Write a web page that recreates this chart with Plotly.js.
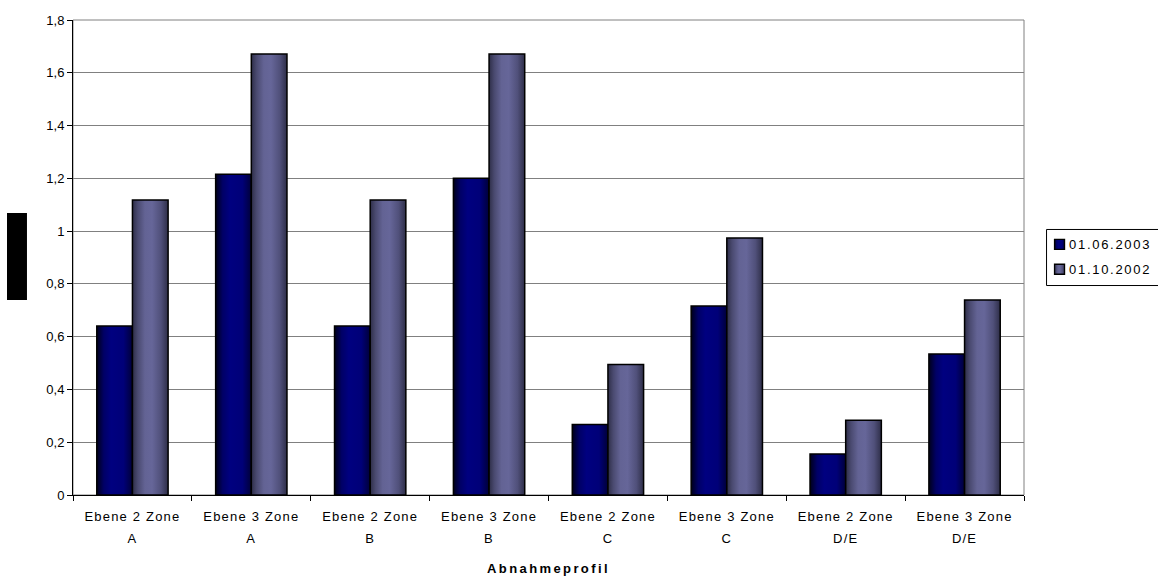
<!DOCTYPE html>
<html>
<head>
<meta charset="utf-8">
<script src="https://cdn.plot.ly/plotly-3.0.1.min.js"></script>
<style>
  html, body { margin: 0; padding: 0; background: #fff; }
  #chart { width: 1158px; height: 576px; }
  .xtitle { letter-spacing: 2.4px; }
  .xtick text { letter-spacing: 1.2px; }
  .legendtext { letter-spacing: 1.7px; }
</style>
</head>
<body>
<div id="chart"></div>
<script>
// Load profiles (Abnahmeprofile) and their values at two reference dates
const categories = [
  "Ebene 2 Zone<br>A", "Ebene 3 Zone<br>A",
  "Ebene 2 Zone<br>B", "Ebene 3 Zone<br>B",
  "Ebene 2 Zone<br>C", "Ebene 3 Zone<br>C",
  "Ebene 2 Zone<br>D/E", "Ebene 3 Zone<br>D/E"
];
const values2003 = [0.64, 1.215, 0.64, 1.20, 0.267, 0.716, 0.155, 0.534];
const values2002 = [1.118, 1.671, 1.118, 1.671, 0.495, 0.974, 0.283, 0.739];
const seriesNames = ["01.06.2003", "01.10.2002"];
const yTicks = [0, 0.2, 0.4, 0.6, 0.8, 1, 1.2, 1.4, 1.6, 1.8];

const FONT = "Liberation Sans, Arial, sans-serif";

const traces = [
  { type: "bar", name: seriesNames[0], x: categories, y: values2003, legendgroup: "a",
    marker: { color: "#000080", line: { color: "#000000", width: 1.5 } } },
  { type: "bar", name: seriesNames[1], x: categories, y: values2002, legendgroup: "b",
    marker: { color: "#666699", line: { color: "#000000", width: 1.5 } } }
];

const layout = {
  width: 1158, height: 576,
  margin: { l: 73, r: 134, t: 20, b: 81, autoexpand: false },
  paper_bgcolor: "#ffffff", plot_bgcolor: "#ffffff",
  font: { family: FONT, size: 13, color: "#000000" },
  separators: ",.",
  barmode: "group",
  bargap: 0.4, bargroupgap: 0,
  showlegend: true,
  legend: {
    x: 1.0053, xanchor: "left", y: 0.5592, yanchor: "top",
    borderwidth: 0, bgcolor: "rgba(0,0,0,0)",
    font: { family: FONT, size: 13, color: "#000000" },
    traceorder: "grouped", tracegroupgap: 5, itemwidth: 30
  },
  xaxis: {
    type: "category",
    showline: true, linecolor: "#000000", linewidth: 1,
    ticks: "outside", ticklen: 5, tickcolor: "#000000", tickson: "boundaries",
    ticklabelstandoff: 9,
    showgrid: false,
    tickfont: { family: FONT, size: 13, color: "#000000" },
    title: { text: "Abnahmeprofil", font: { family: FONT, size: 13, color: "#000000", weight: "bold" }, standoff: 25 }
  },
  yaxis: {
    range: [0, 1.8], tickvals: yTicks,
    showline: true, linecolor: "#000000", linewidth: 1,
    ticks: "outside", ticklen: 5, tickcolor: "#000000",
    showgrid: true, gridcolor: "#808080", gridwidth: 1,
    zeroline: false,
    tickfont: { family: FONT, size: 13, color: "#000000" }
  },
  shapes: [
    // plot-area frame
    { type: "rect", xref: "paper", yref: "paper", x0: 0, x1: 1, y0: 0, y1: 1,
      line: { color: "#808080", width: 1 }, fillcolor: "rgba(0,0,0,0)", layer: "below" },
    // legend frame (open to the right edge)
    { type: "rect", xref: "paper", yref: "paper", x0: 1.0237, x1: 1.15, y0: 0.441, y1: 0.559,
      line: { color: "#000000", width: 1 }, fillcolor: "rgba(0,0,0,0)" },
    // solid block on the y-axis title position
    { type: "rect", xref: "paper", yref: "paper", x0: -0.0694, x1: -0.0484, y0: 0.4105, y1: 0.5937,
      line: { width: 0 }, fillcolor: "#000000" }
  ]
};

Plotly.newPlot("chart", traces, layout, { staticPlot: true }).then(function (gd) {
  const svgNS = "http://www.w3.org/2000/svg";
  const defs = gd.querySelector("svg.main-svg defs");
  const grads = [
    { id: "gradBlue", stops: [[0, "#00001a"], [0.2, "#000066"], [0.4, "#000080"], [0.75, "#000078"], [1, "#00003a"]] },
    { id: "gradPurple", stops: [[0, "#2e2e48"], [0.15, "#4a4a70"], [0.35, "#636394"], [0.55, "#666699"], [0.8, "#50507a"], [1, "#2e2e48"]] }
  ];
  grads.forEach(function (g) {
    const lg = document.createElementNS(svgNS, "linearGradient");
    lg.setAttribute("id", g.id);
    lg.setAttribute("x1", "0"); lg.setAttribute("y1", "0");
    lg.setAttribute("x2", "1"); lg.setAttribute("y2", "0");
    g.stops.forEach(function (s) {
      const st = document.createElementNS(svgNS, "stop");
      st.setAttribute("offset", s[0]);
      st.setAttribute("stop-color", s[1]);
      lg.appendChild(st);
    });
    defs.appendChild(lg);
  });
  gd.querySelectorAll(".barlayer .trace").forEach(function (tr, i) {
    tr.querySelectorAll("path").forEach(function (p) { p.style.fill = "url(#" + grads[i].id + ")"; });
  });
  // small square legend keys placed close to their labels
  gd.querySelectorAll(".legend .traces").forEach(function (tr, i) {
    tr.querySelectorAll(".legendpoints path").forEach(function (p) {
      p.setAttribute("d", "M5,5H-5V-5H5Z");
      p.setAttribute("transform", "translate(30.5,0)");
      p.style.fill = "url(#" + grads[i].id + ")";
      p.style.stroke = "#000000";
      p.style.strokeWidth = "1.3px";
    });
  });
  // wider spacing between the two lines of each category label
  gd.querySelectorAll(".xtick text tspan.line").forEach(function (t) {
    const dy = t.getAttribute("dy");
    if (dy && dy !== "0em" && dy !== "0") t.setAttribute("dy", "1.7em");
  });
});
</script>
</body>
</html>
